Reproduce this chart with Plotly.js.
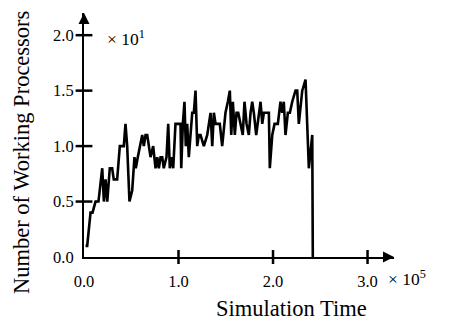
<!DOCTYPE html>
<html>
<head>
<meta charset="utf-8">
<script src="https://cdn.plot.ly/plotly-3.0.1.min.js"></script>
<style>html,body{margin:0;padding:0;background:#fff;}#chart{width:449px;height:322px;}</style>
</head>
<body>
<div id="chart"></div>
<script>
// Simulation time in units of 10^5
var simTime = [0.016,0.034,0.069,0.090,0.122,0.153,0.193,0.210,0.228,0.246,0.273,0.298,0.315,0.351,0.379,0.421,0.439,0.457,0.481,0.510,
  0.534,0.548,0.569,0.590,0.616,0.633,0.651,0.669,0.686,0.704,0.732,0.757,0.775,0.792,0.810,0.828,0.844,0.873,0.891,0.908,
  0.926,0.944,0.968,1.021,1.029,1.046,1.063,1.077,1.092,1.109,1.127,1.145,1.162,1.180,1.198,1.215,1.233,1.268,1.304,1.339,
  1.357,1.374,1.392,1.437,1.462,1.497,1.522,1.543,1.558,1.575,1.596,1.614,1.632,1.656,1.680,1.698,1.720,1.744,1.762,1.780,
  1.797,1.822,1.850,1.868,1.886,1.903,1.956,1.966,1.992,2.016,2.051,2.079,2.097,2.114,2.132,2.157,2.178,2.203,2.238,2.256,
  2.273,2.309,2.344,2.379,2.415,2.421];
// Working processors in units of 10^1
var workingProcs = [0.1,0.1,0.4,0.4,0.5,0.5,0.8,0.5,0.7,0.5,0.8,0.8,0.7,0.7,1.0,1.0,1.2,1.0,0.5,0.6,
  0.9,0.8,0.9,1.0,1.1,1.0,1.1,1.1,1.0,0.9,1.0,0.8,0.9,0.8,0.9,0.9,0.8,0.9,1.2,0.8,
  0.9,0.8,1.2,1.2,0.8,1.2,1.4,1.0,1.2,0.9,1.1,1.3,1.3,1.5,1.0,1.1,1.1,1.0,1.1,1.3,
  1.0,1.3,1.2,1.2,1.0,1.3,1.4,1.5,1.1,1.4,1.1,1.3,1.3,1.2,1.1,1.4,1.2,1.1,1.3,1.4,
  1.3,1.1,1.3,1.4,1.2,1.3,1.3,0.8,1.1,1.2,1.2,1.4,1.3,1.4,1.1,1.3,1.3,1.4,1.5,1.5,
  1.2,1.5,1.6,0.8,1.1,0.0];

var xTickVals = [0, 1, 2, 3];
var xTickText = ["0.0", "1.0", "2.0", "3.0"];
var yTickVals = [0, 0.5, 1.0, 1.5, 2.0];
var yTickText = ["0.0", "0.5", "1.0", "1.5", "2.0"];
var xRange = [0, 3.28];
var yRange = [0, 2.2];

var serif = "Liberation Serif, Times New Roman, serif";

var W = 449, H = 322, ml = 84, mr = 55, mt = 13, mb = 65;
var pw = W - ml - mr, ph = H - mt - mb;

var annotations = [
  {x: 105, y: 38, text: "× 10<sup>1</sup>", size: 17.5, xanchor: "left"},
  {x: 386, y: 278, text: "× 10<sup>5</sup>", size: 17.5, xanchor: "left"},
  {x: 291, y: 308, text: "Simulation Time", size: 22.5, xanchor: "center"},
  {x: 21, y: 153, text: "Number of Working Processors", size: 22.5, xanchor: "center", angle: -90}
].map(function (a) {
  return {x: (a.x - ml) / pw, y: (H - mb - a.y) / ph, xref: "paper", yref: "paper", text: a.text,
    showarrow: false, textangle: a.angle || 0, xanchor: a.xanchor, yanchor: "middle",
    font: {family: serif, size: a.size, color: "#000"}};
});

var trace = {
  x: simTime, y: workingProcs, type: "scatter", mode: "lines",
  line: {color: "#000", width: 2.6, shape: "linear"},
  cliponaxis: false, hoverinfo: "skip"
};

// crossing tick marks: "line-ns" / "line-ew" markers centred on the axes at the tick values
var tickMarksX = {
  x: xTickVals.slice(1), y: xTickVals.slice(1).map(function () { return yRange[0]; }),
  type: "scatter", mode: "markers", cliponaxis: false, hoverinfo: "skip",
  marker: {symbol: "line-ns", size: 10, color: "#000", line: {color: "#000", width: 2.5}}
};
var tickMarksY = {
  x: yTickVals.slice(1).map(function () { return xRange[0]; }), y: yTickVals.slice(1),
  type: "scatter", mode: "markers", cliponaxis: false, hoverinfo: "skip",
  marker: {symbol: "line-ew", size: 12, color: "#000", line: {color: "#000", width: 2.5}}
};

var arrowHeads = {
  x: [xRange[1], 0], y: [0, yRange[1]], type: "scatter", mode: "markers",
  marker: {symbol: ["arrow-right", "arrow-up"], size: 11, color: "#000", line: {width: 0}},
  cliponaxis: false, hoverinfo: "skip"
};

var layout = {
  width: W, height: H,
  margin: {l: ml, r: mr, t: mt, b: mb, pad: 0},
  paper_bgcolor: "#fff", plot_bgcolor: "#fff",
  showlegend: false,
  xaxis: {range: xRange, showgrid: false, zeroline: false, showline: true, linewidth: 2, linecolor: "#000",
    ticks: "", tickmode: "array", tickvals: xTickVals, ticktext: xTickText, ticklabelstandoff: 8,
    tickfont: {family: serif, size: 16.5, color: "#000"}, fixedrange: true},
  yaxis: {range: yRange, showgrid: false, zeroline: false, showline: true, linewidth: 2, linecolor: "#000",
    ticks: "", tickmode: "array", tickvals: yTickVals, ticktext: yTickText, ticklabelstandoff: 5,
    tickfont: {family: serif, size: 16.5, color: "#000"}, fixedrange: true},
  annotations: annotations
};

Plotly.newPlot("chart", [trace, tickMarksX, tickMarksY, arrowHeads], layout, {displayModeBar: false, staticPlot: true});
</script>
</body>
</html>
